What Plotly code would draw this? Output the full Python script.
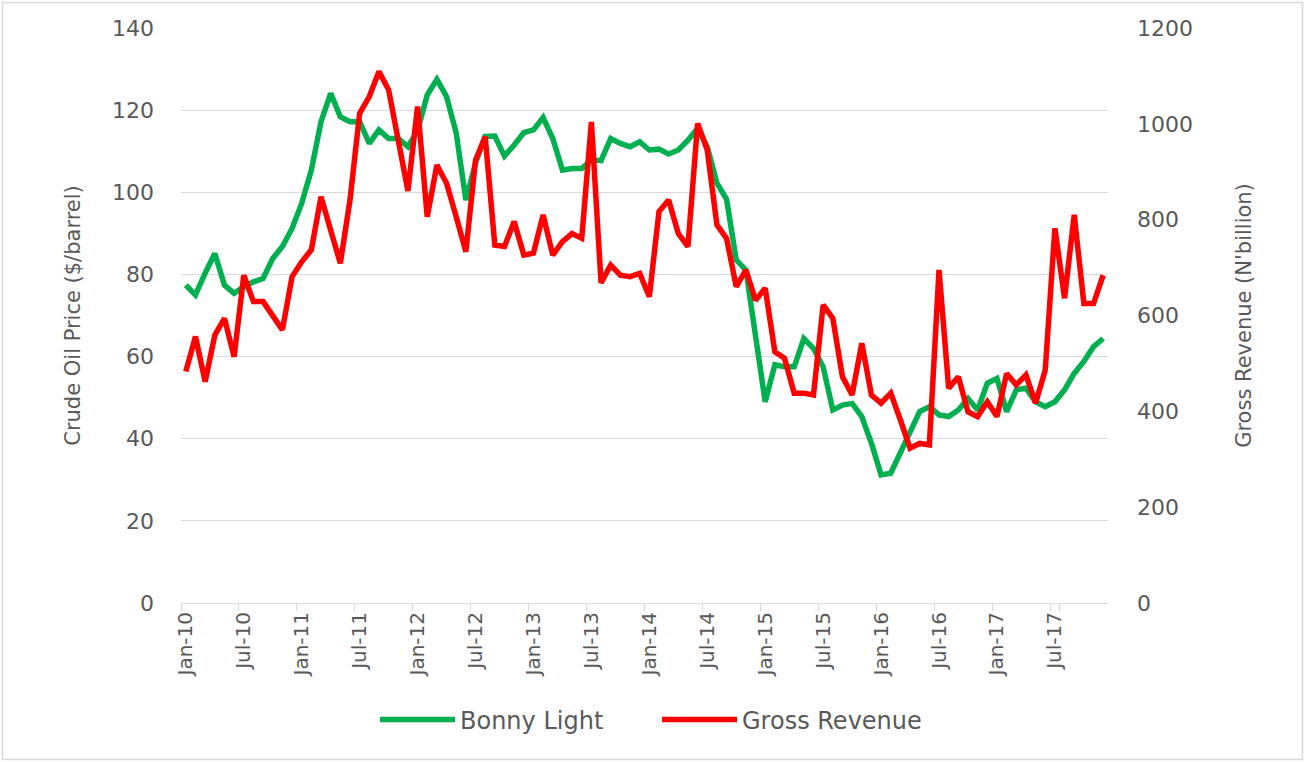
import plotly.graph_objects as go

months = ["Jan", "Feb", "Mar", "Apr", "May", "Jun", "Jul", "Aug", "Sep", "Oct", "Nov", "Dec"]
years = ["10", "11", "12", "13", "14", "15", "16", "17"]
categories = [f"{m}-{y}" for y in years for m in months]

bonny_light = [
    77.4, 75.0, 80.3, 85.1, 77.4, 75.4, 77.0, 78.2, 79.0, 83.9, 86.8, 91.2,
    97.3, 105.4, 117.2, 124.1, 118.4, 117.2, 117.2, 111.9, 115.2, 113.1, 113.1, 111.1,
    115.0, 123.7, 127.5, 123.3, 114.4, 98.1, 107.1, 113.6, 113.7, 108.8, 111.5, 114.5,
    115.2, 118.2, 113.1, 105.4, 105.8, 105.8, 107.9, 107.7, 113.1, 111.9, 111.1, 112.3,
    110.3, 110.5, 109.3, 110.3, 112.7, 115.6, 111.1, 102.2, 98.3, 83.5, 81.1, 65.7,
    49.0, 58.0, 57.5, 57.5, 64.4, 62.0, 57.5, 47.0, 48.2, 48.6, 45.4, 38.9,
    31.2, 31.6, 36.5, 41.7, 46.6, 47.8, 45.8, 45.4, 47.0, 49.8, 47.0, 53.5,
    54.7, 46.6, 51.9, 52.3, 49.0, 47.8, 49.0, 51.9, 55.9, 58.8, 62.4, 64.4,
]

gross_revenue = [
    483, 556, 462, 559, 594, 514, 684, 629, 629, 601, 570, 681,
    712, 737, 848, 778, 709, 841, 1022, 1057, 1109, 1071, 960, 860,
    1036, 806, 914, 876, 806, 733, 924, 973, 747, 744, 796, 726,
    730, 810, 726, 754, 771, 761, 1004, 668, 705, 684, 681, 688,
    639, 817, 841, 771, 744, 1001, 945, 789, 761, 660, 695, 632,
    657, 524, 511, 438, 438, 434, 622, 594, 472, 434, 542, 434,
    417, 438, 382, 323, 333, 330, 695, 448, 472, 399, 389, 420,
    389, 479, 455, 476, 417, 486, 782, 636, 810, 625, 625, 684,
]

tick_labels = categories[::6]
left_ticks = [0, 20, 40, 60, 80, 100, 120, 140]
right_ticks = [0, 200, 400, 600, 800, 1000, 1200]

FONT = "DejaVu Sans"
TXT = "#595959"
GRID = "#D9D9D9"

fig = go.Figure()
fig.add_trace(go.Scatter(
    x=categories, y=bonny_light, name="Bonny Light", mode="lines",
    line=dict(color="#00B050", width=5.5), yaxis="y",
))
fig.add_trace(go.Scatter(
    x=categories, y=gross_revenue, name="Gross Revenue", mode="lines",
    line=dict(color="#FF0000", width=5.5), yaxis="y2",
))

fig.update_layout(
    width=1305, height=762, autosize=False,
    margin=dict(l=181, r=197, t=28, b=159),
    paper_bgcolor="white", plot_bgcolor="white",
    font=dict(family=FONT, size=21, color=TXT),
    xaxis=dict(
        type="category", categoryorder="array", categoryarray=categories,
        range=[-0.5, len(categories) - 0.5],
        tickmode="array", tickvals=tick_labels, ticktext=tick_labels,
        tickangle=-90, tickson="boundaries",
        ticks="outside", ticklen=7, tickcolor=GRID,
        showline=True, linecolor=GRID, linewidth=1,
        showgrid=False, zeroline=False, automargin=False,
        tickfont=dict(family=FONT, size=20, color=TXT),
    ),
    yaxis=dict(
        range=[0, 140], tickmode="array", tickvals=left_ticks,
        showgrid=True, gridcolor=GRID, gridwidth=1, zeroline=False,
        ticks="", ticklabelstandoff=26, automargin=False,
        tickfont=dict(family=FONT, size=22, color=TXT),
        title=dict(text="Crude Oil Price ($/barrel)", standoff=25,
                   font=dict(family=FONT, size=21, color=TXT)),
    ),
    yaxis2=dict(
        range=[0, 1200], tickmode="array", tickvals=right_ticks,
        overlaying="y", side="right",
        showgrid=False, zeroline=False, automargin=False,
        ticks="", ticklabelstandoff=28,
        tickfont=dict(family=FONT, size=22, color=TXT),
        title=dict(text="Gross Revenue (N'billion)", standoff=44,
                   font=dict(family=FONT, size=21, color=TXT)),
    ),
    legend=dict(
        orientation="h", x=0.5135, xanchor="center", y=-0.2035, yanchor="middle",
        font=dict(family=FONT, size=24, color=TXT),
        itemwidth=75, entrywidth=192, entrywidthmode="pixels",
        bgcolor="rgba(0,0,0,0)",
    ),
    shapes=[dict(
        type="rect", xref="paper", yref="paper",
        x0=-0.1926, x1=1.2098, y0=-0.2722, y1=1.0443,
        line=dict(color=GRID, width=1.5), fillcolor="rgba(0,0,0,0)", layer="below",
    )],
    showlegend=True,
)

fig.write_html("out.html", post_script="document.body.style.margin='0';",
               config={"displayModeBar": False})
